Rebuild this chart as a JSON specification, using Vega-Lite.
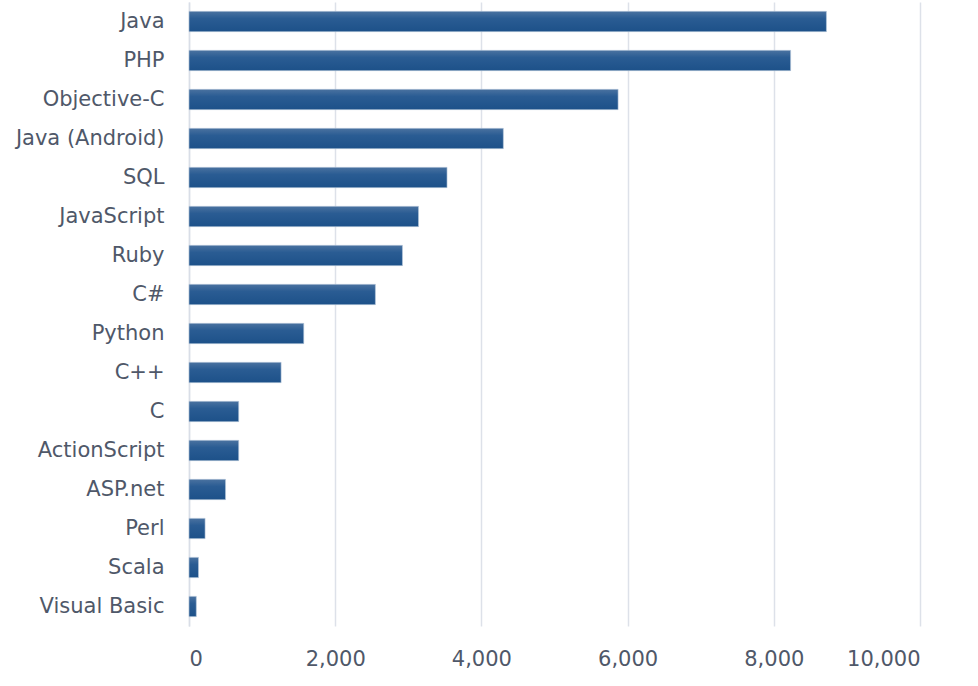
{
  "$schema": "https://vega.github.io/schema/vega-lite/v6.json",
  "width": 731,
  "height": 624,
  "autosize": {"type": "none"},
  "padding": {"left": 189, "top": 2, "right": 58, "bottom": 60},
  "background": "white",
  "config": {
    "view": {"stroke": null},
    "font": "DejaVu Sans"
  },
  "data": {
    "values": [
      {"language": "Java", "count": 8720},
      {"language": "PHP", "count": 8230},
      {"language": "Objective-C", "count": 5870},
      {"language": "Java (Android)", "count": 4300},
      {"language": "SQL", "count": 3530},
      {"language": "JavaScript", "count": 3140},
      {"language": "Ruby", "count": 2920},
      {"language": "C#", "count": 2550},
      {"language": "Python", "count": 1570},
      {"language": "C++", "count": 1260},
      {"language": "C", "count": 680},
      {"language": "ActionScript", "count": 680},
      {"language": "ASP.net", "count": 500},
      {"language": "Perl", "count": 220},
      {"language": "Scala", "count": 130},
      {"language": "Visual Basic", "count": 100}
    ]
  },
  "mark": {
    "type": "bar",
    "color": {
      "gradient": "linear",
      "x1": 0, "y1": 0, "x2": 0, "y2": 1,
      "stops": [
        {"offset": 0, "color": "#4a72a0"},
        {"offset": 0.35, "color": "#2a5c93"},
        {"offset": 1, "color": "#1d5189"}
      ]
    },
    "stroke": "#b9c9dc",
    "strokeWidth": 0.6
  },
  "encoding": {
    "y": {
      "field": "language",
      "type": "nominal",
      "sort": null,
      "scale": {"paddingInner": 0.48, "paddingOuter": 0.24},
      "axis": {
        "title": null,
        "ticks": false,
        "domain": true,
        "domainColor": "#d9dee7",
        "domainWidth": 1.5,
        "labelFontSize": 21,
        "labelColor": "#4f5869",
        "labelPadding": 25,
        "labelFont": "DejaVu Sans"
      }
    },
    "x": {
      "field": "count",
      "type": "quantitative",
      "scale": {"domain": [0, 10000], "nice": false},
      "axis": {
        "title": null,
        "values": [0, 2000, 4000, 6000, 8000, 10000],
        "format": ",.0f",
        "ticks": false,
        "domain": false,
        "grid": true,
        "gridColor": "#dde1e9",
        "gridWidth": 1.5,
        "labelFontSize": 21,
        "labelColor": "#4f5869",
        "labelPadding": 22,
        "labelFont": "DejaVu Sans"
      }
    }
  }
}
